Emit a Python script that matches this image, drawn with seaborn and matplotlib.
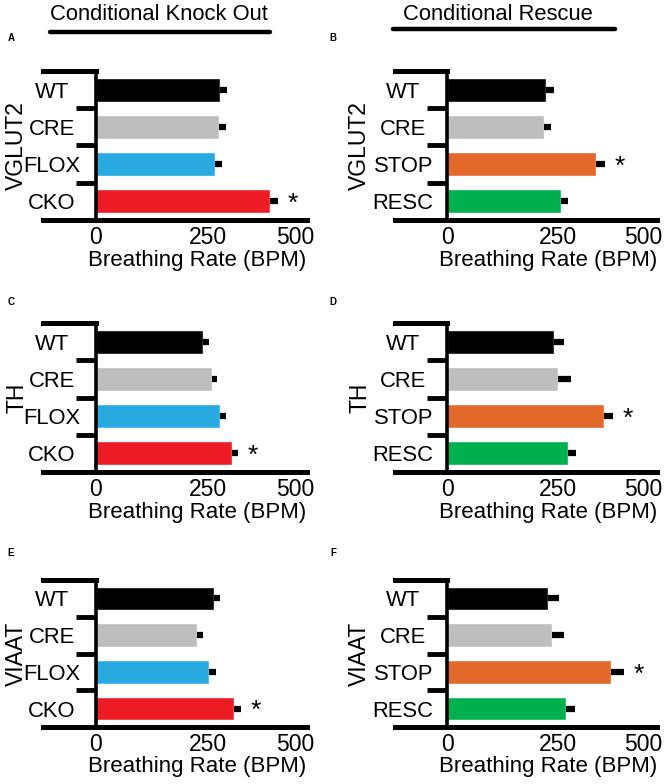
import matplotlib
matplotlib.use('Agg')
import matplotlib.pyplot as plt
import matplotlib.transforms as mtransforms
import seaborn as sns
import pandas as pd
from matplotlib.lines import Line2D
from matplotlib.ticker import FixedLocator

sns.set_theme(style='white')
plt.rcParams['font.family'] = ['Liberation Sans', 'DejaVu Sans']
plt.rcParams['axes.edgecolor'] = 'black'
plt.rcParams['xtick.color'] = 'black'
plt.rcParams['ytick.color'] = 'black'
plt.rcParams['text.color'] = 'black'
plt.rcParams['axes.labelcolor'] = 'black'

# ---------------- data ----------------
cko_groups = ['WT', 'CRE', 'FLOX', 'CKO']
resc_groups = ['WT', 'CRE', 'STOP', 'RESC']
cko_colors = ['#000000', '#BEBEBE', '#29ABE2', '#ED1C24']
resc_colors = ['#000000', '#BEBEBE', '#E2692A', '#00B04F']

vglut2_cko_mean = [295, 293, 284, 414]
vglut2_cko_sem = [17, 17, 16, 18]
vglut2_resc_mean = [237, 232, 356, 272]
vglut2_resc_sem = [19, 17, 21, 18]
th_cko_mean = [255, 276, 295, 324]
th_cko_sem = [14, 12, 14, 14]
th_resc_mean = [255, 265, 374, 288]
th_resc_sem = [24, 30, 22, 20]
viaat_cko_mean = [281, 240, 270, 329]
viaat_cko_sem = [15, 15, 15, 16]
viaat_resc_mean = [240, 251, 393, 284]
viaat_resc_sem = [27, 28, 30, 21]

x_ticks = [0, 250, 500]
x_label = 'Breathing Rate (BPM)'
col_titles = ['Conditional Knock Out', 'Conditional Rescue']
panel_letters = ['A', 'B', 'C', 'D', 'E', 'F']
row_labels = ['VGLUT2', 'TH', 'VIAAT']
cko_sig = 'CKO'
resc_sig = 'STOP'

panels = [
    (cko_groups, vglut2_cko_mean, vglut2_cko_sem, cko_colors, row_labels[0], cko_sig),
    (resc_groups, vglut2_resc_mean, vglut2_resc_sem, resc_colors, row_labels[0], resc_sig),
    (cko_groups, th_cko_mean, th_cko_sem, cko_colors, row_labels[1], cko_sig),
    (resc_groups, th_resc_mean, th_resc_sem, resc_colors, row_labels[1], resc_sig),
    (cko_groups, viaat_cko_mean, viaat_cko_sem, cko_colors, row_labels[2], cko_sig),
    (resc_groups, viaat_resc_mean, viaat_resc_sem, resc_colors, row_labels[2], resc_sig),
]

# ---------------- layout ----------------
W, H = 669, 784
fig = plt.figure(figsize=(W / 100, H / 100), dpi=100)

col_left = [43, 395]
col_width = [264, 262]
row_top = [71, 323, 580]
row_bottom = [220, 472, 727]
ylabel_x = [-0.100, -0.135]
xtick_shift = [[0, 7, -11], [0, 6, -13]]  # px
letter_pos = [(11, 38), (333, 38), (11, 302), (333, 302), (11, 553), (333, 553)]

for i, (groups, means, sems, colors, rlabel, sig) in enumerate(panels):
    r, c = divmod(i, 2)
    rect = [col_left[c] / W, 1 - row_bottom[r] / H, col_width[c] / W,
            (row_bottom[r] - row_top[r]) / H]
    ax = fig.add_axes(rect)
    df = pd.DataFrame({'group': groups, 'rate': means})
    sns.barplot(data=df, x='rate', y='group', hue='group', palette=colors,
                order=groups, hue_order=groups, legend=False, orient='h',
                width=0.645, saturation=1, ax=ax)
    ypos = list(range(len(groups)))
    ax.errorbar(means, ypos, xerr=[[0] * len(groups), sems], fmt='none',
                ecolor='black', elinewidth=4.5, capsize=0)
    k = groups.index(sig)
    ax.text(means[k] + sems[k] + 35, k + 0.07, '*', fontsize=19,
            ha='center', va='center')

    ax.set_xlim(-125, 502)
    ax.set_ylim(len(groups) - 0.5, -0.5)
    ax.spines['right'].set_visible(False)
    ax.spines['left'].set_position(('data', 0))
    ax.spines['left'].set_linewidth(2.6)
    ax.spines['bottom'].set_linewidth(3.6)
    ax.spines['top'].set_linewidth(3.6)
    ax.spines['top'].set_bounds(-125, 0)

    ax.set_xticks(x_ticks)
    ax.set_xticklabels([str(t) for t in x_ticks])
    ax.tick_params(axis='x', which='major', bottom=True, length=2.5, width=3,
                   direction='out', labelsize=16.5, pad=1.5)
    for lab, dx in zip(ax.get_xticklabels(), xtick_shift[c]):
        lab.set_transform(lab.get_transform() +
                          mtransforms.ScaledTranslation(dx / 100, 0, fig.dpi_scale_trans))
    ax.set_yticks(ypos)
    ax.set_yticklabels(groups)
    ax.tick_params(axis='y', which='major', left=True, length=0, pad=31.7,
                   labelsize=15.8)
    for lab in ax.get_yticklabels():
        lab.set_horizontalalignment('center')
    ax.yaxis.set_minor_locator(FixedLocator([0.5 + j for j in range(len(groups) - 1)]))
    ax.tick_params(axis='y', which='minor', left=True, length=14.4, width=3.5,
                   direction='out')

    ax.set_xlabel(x_label, fontsize=16)
    ax.xaxis.set_label_coords(0.583, -0.2)
    ax.set_ylabel(rlabel, fontsize=16.5)
    ax.yaxis.label.set_verticalalignment('center')
    ax.yaxis.set_label_coords(ylabel_x[c], 0.5)
    ax.grid(False)

    lx, ly = letter_pos[i]
    fig.text(lx / W, 1 - ly / H, panel_letters[i], fontsize=7, fontweight='bold',
             ha='center', va='center')

# column titles and lines
title_cx = [159, 498]
title_cy = [15, 15]
line_x = [(50, 270), (393, 615)]
line_y = [32, 29]
for c in range(2):
    fig.text(title_cx[c] / W, 1 - title_cy[c] / H, col_titles[c], fontsize=15.8,
             ha='center', va='center')
    x0, x1 = line_x[c]
    fig.add_artist(Line2D([x0 / W, x1 / W], [1 - line_y[c] / H, 1 - line_y[c] / H],
                          transform=fig.transFigure, color='black', linewidth=3.2))

fig.savefig('out.png', dpi=100)
